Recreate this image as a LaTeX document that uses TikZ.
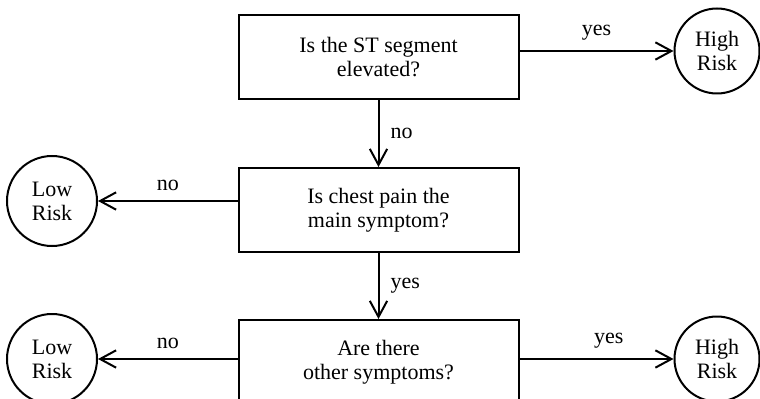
\documentclass[tikz,border=0pt]{standalone}
\usepackage{fontspec}
\setmainfont{Liberation Serif}
\usetikzlibrary{arrows.meta}

\tikzset{
    question/.style={draw, line width=1.5pt, minimum width=210pt, minimum height=63pt,
        inner sep=0pt, align=center, font=\fontsize{16.5}{18}\selectfont},
    outcome/.style={draw, circle, line width=1.5pt, inner sep=0pt, align=center,
        font=\fontsize{16.5}{18}\selectfont},
    flow/.style={line width=1.5pt, -{Straight Barb[length=12pt,width=13pt]}},
    answer/.style={font=\fontsize{16.5}{18}\selectfont}
}

\begin{document}
\begin{tikzpicture}[x=0.75pt, y=-0.75pt]
        \useasboundingbox (0,0) rectangle (760,399);
        \clip (0,0) rectangle (760,399);

        % questions
        \node[question] (stq) at (378.5,57) {Is the ST segment\\elevated?};
        \node[question] (painq) at (378.5,210) {Is chest pain the\\main symptom?};
        \node[question] (otherq) at (378.5,362) {Are there\\other symptoms?};

        % outcomes
        \node[outcome, minimum size=63.75pt] (high1) at (717,51) {High\\Risk};
        \node[outcome, minimum size=67.5pt] (low1) at (52,201) {Low\\Risk};
        \node[outcome, minimum size=67.5pt] (low2) at (52,359) {Low\\Risk};
        \node[outcome, minimum size=63.75pt] (high2) at (717,359) {High\\Risk};

        % connectors
        \draw[flow] (stq.east |- high1) -- node[answer, above=4pt] {yes} (high1);
        \draw[flow] (stq) -- node[answer, right=5pt] {no} (painq);
        \draw[flow] (painq.west |- low1) -- node[answer, above=4pt] {no} (low1);
        \draw[flow] (painq) -- node[answer, right=5pt] {yes} (otherq);
        \draw[flow] (otherq.west |- low2) -- node[answer, above=4pt] {no} (low2);
        \draw[flow] (otherq.east |- high2) -- node[answer, above=4pt, pos=0.58] {yes} (high2);
    \end{tikzpicture}
\end{document}
